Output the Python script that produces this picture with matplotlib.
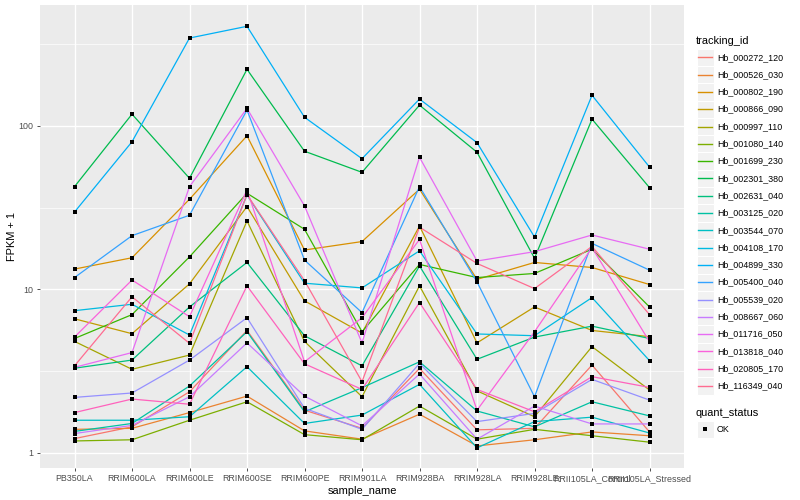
import matplotlib.pyplot as plt
from matplotlib.patches import Rectangle

plt.rcParams['font.family'] = ['Liberation Sans', 'DejaVu Sans']

samples = ["PB350LA", "RRIM600LA", "RRIM600LE", "RRIM600SE", "RRIM600PE", "RRIM901LA",
           "RRIM928BA", "RRIM928LA", "RRIM928LE", "RRII105LA_Control", "RRII105LA_Stressed"]

tracking_ids = ["Hb_000272_120", "Hb_000526_030", "Hb_000802_190", "Hb_000866_090",
                "Hb_000997_110", "Hb_001080_140", "Hb_001699_230", "Hb_002301_380",
                "Hb_002631_040", "Hb_003125_020", "Hb_003544_070", "Hb_004108_170",
                "Hb_004899_330", "Hb_005400_040", "Hb_005539_020", "Hb_008667_060",
                "Hb_011716_050", "Hb_013818_040", "Hb_020805_170", "Hb_116349_040"]

# FPKM + 1 per gene, one value per sample
hb_000272_120 = [1.22, 1.44, 2.36, 5.6, 1.82, 1.41, 3.28, 1.38, 1.41, 3.44, 1.34]
hb_000526_030 = [1.39, 1.41, 1.76, 2.22, 1.36, 1.21, 1.72, 1.10, 1.20, 1.34, 1.27]
hb_000802_190 = [13.3, 15.6, 35.6, 87, 17.4, 19.6, 41, 11.5, 14.6, 13.6, 10.7]
hb_000866_090 = [6.6, 5.35, 10.8, 32.1, 8.5, 5.4, 24.4, 4.7, 7.8, 5.6, 5.13]
hb_000997_110 = [4.8, 3.24, 3.96, 26.2, 4.8, 2.2, 10.5, 2.39, 1.66, 4.46, 2.42]
hb_001080_140 = [1.18, 1.20, 1.58, 2.05, 1.29, 1.20, 1.93, 1.21, 1.39, 1.27, 1.16]
hb_001699_230 = [5.0, 7.0, 15.8, 38.7, 23.3, 5.5, 14.2, 11.8, 12.5, 17.6, 7.8]
hb_002301_380 = [42.5, 118, 47.8, 222, 70, 52, 134, 69, 15.5, 110, 41.9]
hb_002631_040 = [3.29, 3.69, 7.8, 14.6, 5.2, 3.4, 13.9, 3.73, 5.1, 5.95, 5.0]
hb_003125_020 = [1.35, 1.51, 2.56, 5.5, 1.78, 2.5, 3.6, 1.80, 1.44, 2.05, 1.68]
hb_003544_070 = [1.58, 1.58, 1.66, 3.36, 1.51, 1.70, 2.62, 1.07, 1.55, 1.65, 1.32]
hb_004108_170 = [7.4, 8.1, 5.25, 37.8, 10.9, 10.2, 17.2, 5.33, 5.2, 8.9, 3.66]
hb_004899_330 = [29.7, 80, 345, 407, 113, 63, 146, 79, 20.9, 154, 56]
hb_005400_040 = [11.8, 21.3, 28.4, 125, 15.1, 7.2, 42.5, 11.1, 2.2, 19.1, 13.1]
hb_005539_020 = [2.18, 2.32, 3.69, 6.7, 1.87, 1.39, 3.52, 1.55, 1.74, 2.81, 2.1]
hb_008667_060 = [1.31, 1.47, 2.2, 4.7, 2.22, 1.46, 3.03, 1.21, 1.93, 1.5, 1.5]
hb_011716_050 = [3.33, 4.1, 42.5, 128, 32.4, 4.7, 64.3, 14.9, 17.0, 21.5, 17.6]
hb_013818_040 = [5.1, 11.4, 6.8, 40.6, 3.6, 6.7, 20.2, 1.82, 5.5, 18.0, 4.78]
hb_020805_170 = [1.76, 2.13, 1.98, 10.5, 3.5, 2.44, 8.3, 2.44, 1.78, 2.92, 2.51]
hb_116349_040 = [3.4, 9.0, 4.67, 38, 11.3, 2.72, 24.0, 14.4, 10.1, 18.3, 7.0]

fpkm = [hb_000272_120, hb_000526_030, hb_000802_190, hb_000866_090, hb_000997_110,
        hb_001080_140, hb_001699_230, hb_002301_380, hb_002631_040, hb_003125_020,
        hb_003544_070, hb_004108_170, hb_004899_330, hb_005400_040, hb_005539_020,
        hb_008667_060, hb_011716_050, hb_013818_040, hb_020805_170, hb_116349_040]

# ggplot default hue palette for 20 levels
colors = ["#F8766D", "#EA8331", "#D89000", "#C09B00", "#A3A500", "#7CAE00", "#39B600",
          "#00BB4E", "#00BF7D", "#00C1A3", "#00BFC4", "#00BAE0", "#00B0F6", "#35A2FF",
          "#9590FF", "#C77CFF", "#E76BF3", "#FA62DB", "#FF62BC", "#FF6C91"]

fig = plt.figure(figsize=(8, 5), dpi=100)
ax = fig.add_axes([40/800, 32/500, 644/800, 463/500])
ax.set_facecolor("#EBEBEB")

x = list(range(len(samples)))
for vals, c in zip(fpkm, colors):
    ax.plot(x, vals, color=c, lw=0.9, zorder=2)
for vals in fpkm:
    ax.scatter(x, vals, color="black", marker="s", s=8, zorder=3, linewidths=0)

ax.set_yscale("log")
ax.set_xlim(-0.6, len(samples) - 0.4)
ax.set_ylim(10 ** -0.0936, 10 ** 2.740)
ax.set_yticks([1, 10, 100])
ax.set_yticklabels(["1", "10", "100"])
ax.set_yticks([10 ** 0.5, 10 ** 1.5, 10 ** 2.5], minor=True)
ax.yaxis.set_minor_formatter(plt.NullFormatter())
ax.set_xticks(x)
ax.set_xticklabels(samples)

ax.grid(which="major", color="white", lw=1.0, zorder=0)
ax.grid(which="minor", axis="y", color="white", lw=0.5, zorder=0)
ax.set_axisbelow(True)
for s in ax.spines.values():
    s.set_visible(False)
ax.tick_params(which="major", length=2.5, width=0.6, color="#333333",
               labelcolor="#4D4D4D", labelsize=6.4)
ax.tick_params(axis="x", pad=1.8)
ax.tick_params(axis="y", pad=2.2)
ax.tick_params(which="minor", length=0)

ax.set_xlabel("sample_name", fontsize=7.9, labelpad=2)
ax.set_ylabel("FPKM + 1", fontsize=7.9, labelpad=1)

# legend drawn in pixel coordinates
lax = fig.add_axes([0, 0, 1, 1])
lax.set_xlim(0, 800)
lax.set_ylim(500, 0)
lax.axis("off")

lax.text(696, 40.5, "tracking_id", fontsize=7.9, va="center", ha="left")
step = 17.3
for i, (tid, c) in enumerate(zip(tracking_ids, colors)):
    yc = 57.3 + step * i
    lax.add_patch(Rectangle((696.5, yc - step / 2), 17.3, step, facecolor="#F2F2F2",
                            edgecolor="white", lw=0.8, zorder=1))
    lax.plot([698.2, 712.1], [yc, yc], color=c, lw=1.0, zorder=2)
    lax.text(717, yc, tid, fontsize=6.4, va="center", ha="left")

lax.text(696, 412.7, "quant_status", fontsize=7.9, va="center", ha="left")
lax.add_patch(Rectangle((696.5, 429.3 - step / 2), 17.3, step, facecolor="#F2F2F2",
                        edgecolor="white", lw=0.8, zorder=1))
lax.scatter([705.1], [429.3], color="black", marker="s", s=8, linewidths=0, zorder=2)
lax.text(717, 429.3, "OK", fontsize=6.4, va="center", ha="left")

fig.savefig("out.png", dpi=100)
